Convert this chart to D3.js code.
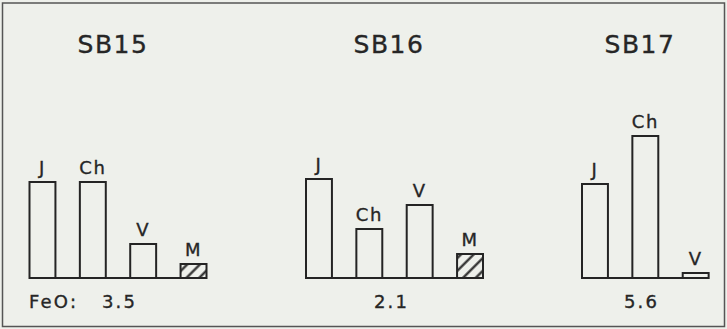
<!DOCTYPE html>
<html>
<head>
<meta charset="utf-8">
<script src="https://cdn.jsdelivr.net/npm/d3@7"></script>
<style>
  html, body { margin: 0; padding: 0; background: #eef0eb; }
  svg { display: block; }
  text { font-family: "DejaVu Sans", sans-serif; fill: #262626; stroke: #262626; stroke-width: 0.35; }
</style>
</head>
<body>
<svg id="chart" width="727" height="329"></svg>
<script>
// Samples (panel titles) and their FeO contents
const samples = ["SB15", "SB16", "SB17"];
const feoLabels = ["FeO:   3.5", "2.1", "5.6"];

// Phase categories and relative amounts per sample
const phases = ["J", "Ch", "V", "M"];
const sb15 = [48, 48, 17, 7];
const sb16 = [49.5, 24.5, 36.5, 12];
const sb17 = [47, 71, 2.5];
const seriesValues = [sb15, sb16, sb17];

const svg = d3.select("#chart");
const ink = "#242424";

// Hatch pattern for the M phase
const defs = svg.append("defs");
const pat = defs.append("pattern")
  .attr("id", "hatch")
  .attr("patternUnits", "userSpaceOnUse")
  .attr("width", 9).attr("height", 9)
  .attr("patternTransform", "rotate(45)");
pat.append("line")
  .attr("x1", 1.5).attr("y1", 0).attr("x2", 1.5).attr("y2", 9)
  .attr("stroke", ink).attr("stroke-width", 2.2);

// Outer frame
svg.append("rect")
  .attr("x", 2.5).attr("y", 3)
  .attr("width", 722).attr("height", 323.5)
  .attr("fill", "none").attr("stroke", "#555").attr("stroke-width", 1.5);

// Panel geometry
const panelX = [29.5, 306, 582];
const baseY = 278;
const panelScale = d3.scaleBand().domain(phases).range([0, 177]).paddingInner(0.485).paddingOuter(0);
const y = d3.scaleLinear().domain([0, 75]).range([baseY, baseY - 150]);
const titleX = [113, 389, 640];
const feoX = [29, 391.5, 641.5];

samples.forEach((s, i) => {
  const vals = seriesValues[i];
  const cats = phases.slice(0, vals.length);
  const g = svg.append("g").attr("transform", `translate(${panelX[i]},0)`);

  // Title
  svg.append("text")
    .attr("x", titleX[i]).attr("y", 53)
    .attr("text-anchor", "middle")
    .attr("font-size", 25)
    .attr("letter-spacing", 1.5)
    .text(s);

  // Bars
  const x = panelScale;
  g.selectAll("rect.bar")
    .data(cats.map((c, k) => ({ c, v: vals[k] })))
    .join("rect")
    .attr("class", "bar")
    .attr("x", d => x(d.c))
    .attr("y", d => y(d.v))
    .attr("width", x.bandwidth())
    .attr("height", d => baseY - y(d.v))
    .attr("fill", d => d.c === "M" ? "url(#hatch)" : "none")
    .attr("stroke", ink)
    .attr("stroke-width", 2);

  // Baseline
  const lastX = x(cats[cats.length - 1]) + x.bandwidth();
  g.append("line")
    .attr("x1", 0).attr("x2", lastX)
    .attr("y1", baseY).attr("y2", baseY)
    .attr("stroke", ink).attr("stroke-width", 2);

  // Phase labels above bars
  g.selectAll("text.lab")
    .data(cats.map((c, k) => ({ c, v: vals[k] })))
    .join("text")
    .attr("class", "lab")
    .attr("x", d => x(d.c) + x.bandwidth() / 2)
    .attr("y", d => y(d.v) - 8)
    .attr("text-anchor", "middle")
    .attr("font-size", 18)
    .attr("letter-spacing", 1.5)
    .text(d => d.c);

  // FeO label
  svg.append("text")
    .attr("x", feoX[i]).attr("y", 308)
    .attr("text-anchor", i === 0 ? "start" : "middle")
    .attr("font-size", 18)
    .attr("letter-spacing", 2.2)
    .attr("xml:space", "preserve")
    .style("white-space", "pre")
    .text(feoLabels[i]);
});
</script>
</body>
</html>
